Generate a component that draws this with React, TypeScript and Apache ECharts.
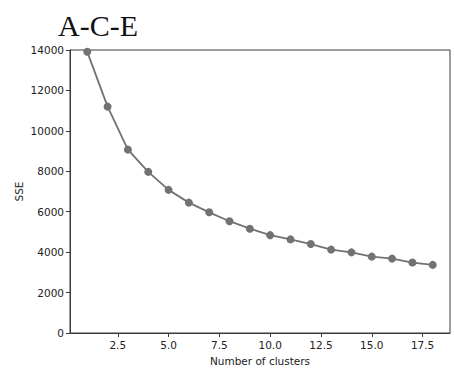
import React, { useEffect, useRef } from "react";
import * as echarts from "echarts";

const clusters = [1, 2, 3, 4, 5, 6, 7, 8, 9, 10, 11, 12, 13, 14, 15, 16, 17, 18];
const sse = [13910, 11200, 9070, 7970, 7080, 6450, 5970, 5530, 5160, 4840, 4630, 4400, 4125, 3990, 3780, 3680, 3485, 3370];
const xTicks = [2.5, 5.0, 7.5, 10.0, 12.5, 15.0, 17.5];
const title = "A-C-E";
const xName = "Number of clusters";
const yName = "SSE";

export default function App() {
  const ref = useRef<HTMLDivElement>(null);
  useEffect(() => {
    if (!ref.current) return;
    const chart = echarts.init(ref.current, null, { renderer: "svg" });
    const axisColor = "#3a3a3a";
    const labelStyle = { color: "#222", fontSize: 10.5, fontFamily: "DejaVu Sans" };
    chart.setOption({
      animation: false,
      backgroundColor: "#fff",
      title: {
        text: title,
        left: 53,
        top: 5,
        textStyle: { fontFamily: "Liberation Serif", fontSize: 30, fontWeight: "normal", color: "#111" },
      },
      grid: {
        left: 70,
        right: 4,
        top: 50,
        bottom: 37,
        show: true,
        borderColor: axisColor,
        borderWidth: 1,
        backgroundColor: "transparent",
      },
      xAxis: {
        type: "value",
        min: 0.15,
        max: 18.85,
        name: xName,
        nameLocation: "middle",
        nameGap: 22,
        nameMoveOverlap: false,
        nameTextStyle: { ...labelStyle },
        splitLine: { show: false },
        axisLine: { show: true, lineStyle: { color: axisColor } },
        axisTick: { show: true, length: 4, lineStyle: { color: axisColor }, customValues: xTicks },
        axisLabel: { ...labelStyle, margin: 6, customValues: xTicks, formatter: (v: number) => v.toFixed(1) },
      },
      yAxis: {
        type: "value",
        min: 0,
        max: 14000,
        interval: 2000,
        name: yName,
        nameLocation: "middle",
        nameGap: 46,
        nameRotate: 90,
        nameMoveOverlap: false,
        nameTextStyle: { ...labelStyle },
        splitLine: { show: false },
        axisLine: { show: true, lineStyle: { color: axisColor } },
        axisTick: { show: true, length: 4, lineStyle: { color: axisColor } },
        axisLabel: { ...labelStyle, margin: 6, formatter: (v: number) => String(v) },
      },
      series: [
        {
          type: "line",
          data: clusters.map((c, i) => [c, sse[i]]),
          symbol: "circle",
          symbolSize: 8,
          itemStyle: { color: "#727272" },
          lineStyle: { color: "#727272", width: 1.8 },
        },
      ],
    });
    return () => chart.dispose();
  }, []);
  return <div ref={ref} style={{ position: "fixed", left: 0, top: 0, width: 454, height: 371 }} />;
}
